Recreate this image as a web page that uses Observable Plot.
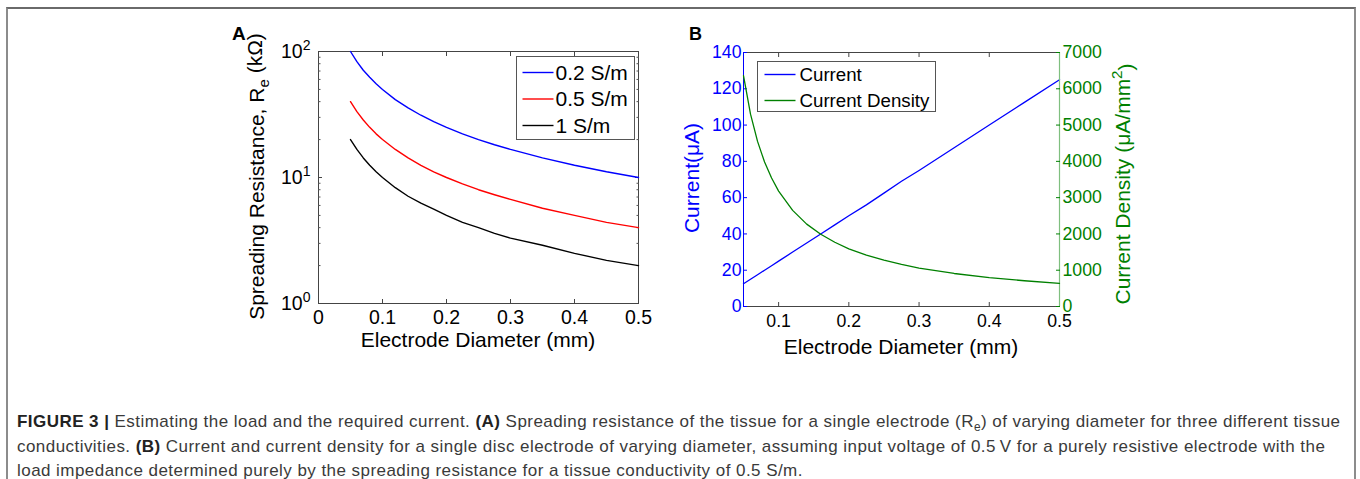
<!DOCTYPE html>
<html><head><meta charset="utf-8">
<script src="https://cdn.jsdelivr.net/npm/d3@7"></script>
<script src="https://cdn.jsdelivr.net/npm/@observablehq/plot@0.6"></script>
<style>
html,body{margin:0;padding:0;background:#fff;}
body{width:1360px;height:479px;overflow:hidden;position:relative;font-family:"Liberation Sans",Arial,sans-serif;}
#box{position:absolute;left:6px;top:7px;width:1350px;height:520px;box-sizing:border-box;border:2px solid #8c8c8c;border-top-color:#6a6a6a;}
.panel{position:absolute;top:0;}
#caption{position:absolute;left:17px;top:410px;font-size:17px;letter-spacing:0.45px;color:#3a3a3a;white-space:nowrap;}
#caption div{height:24.5px;line-height:24.5px;}
#caption b{color:#222;}
#caption sub{font-size:70%;line-height:0;}
</style></head><body>
<div id="box"></div>
<div id="A" class="panel" style="left:0"></div>
<div id="B1" class="panel" style="left:660px"></div>
<div id="B2" class="panel" style="left:660px"></div>
<div id="caption">
<div><b>FIGURE 3 |</b> Estimating the load and the required current. <b>(A)</b> Spreading resistance of the tissue for a single electrode (R<sub>e</sub>) of varying diameter for three different tissue</div>
<div>conductivities. <b>(B)</b> Current and current density for a single disc electrode of varying diameter, assuming input voltage of 0.5&#8201;V for a purely resistive electrode with the</div>
<div>load impedance determined purely by the spreading resistance for a tissue conductivity of 0.5 S/m.</div>
</div>
<script>
// ---------- data ----------
const diameters = [0.05,0.06,0.07,0.08,0.09,0.10,0.12,0.14,0.16,0.18,0.20,0.225,0.25,0.275,0.30,0.35,0.40,0.45,0.50];
const conductivities = ["0.2 S/m","0.5 S/m","1 S/m"];
const seriesColors = ["#0000ff","#ff0000","#000000"];
const resistance02 = [100,83,71,62.5,55.5,50,41.5,35.7,31.2,27.8,25,22.2,20,18.2,16.7,14.3,12.5,11.1,10];
const resistance05 = [40,33.3,28.6,25,22.2,20,16.7,14.3,12.5,11.1,10,8.9,8,7.3,6.7,5.7,5,4.4,4];
const resistance1 = [20,16.7,14.3,12.5,11.1,10,8.3,7.1,6.25,5.6,5,4.4,4,3.6,3.3,2.9,2.5,2.2,2];
const bSeries = ["Current","Current Density"];
const bColors = ["#0000ff","#008000"];
const current = [12.5,15,17.5,20,22.5,25,30,35,40,45,50,56,62.5,69,75,87.5,100,112.5,125];
const currentDensity = [6360,5300,4550,3980,3540,3180,2650,2270,1990,1770,1590,1415,1275,1160,1060,910,795,710,640];
const xDomainA = [0,0.5];
const yDomainA = [1,100];
const xTicksA = [0,0.1,0.2,0.3,0.4,0.5];
const yTicksA = [1,10,100];
const yMinorA = [2,3,4,5,6,7,8,9,20,30,40,50,60,70,80,90];
const xDomainB = [0.05,0.5];
const xTicksB = [0.1,0.2,0.3,0.4,0.5];
const yDomainCurrent = [0,140];
const yTicksCurrent = [0,20,40,60,80,100,120,140];
const yDomainDensity = [0,7000];
const yTicksDensity = [0,1000,2000,3000,4000,5000,6000,7000];

const FONT = "'Liberation Sans', Arial, sans-serif";

// ---------- panel A ----------
const rowsA = [];
[resistance02, resistance05, resistance1].forEach((arr, i) =>
  arr.forEach((v, j) => rowsA.push({d: diameters[j], r: v, s: conductivities[i]})));

const plotA = Plot.plot({
  width: 660, height: 360,
  marginLeft: 318, marginRight: 22, marginTop: 51, marginBottom: 57,
  style: {fontFamily: FONT, fontSize: "19.5px", color: "#000", background: "transparent", overflow: "visible"},
  x: {domain: xDomainA},
  y: {type: "log", domain: yDomainA},
  color: {domain: conductivities, range: seriesColors},
  marks: [
    Plot.frame({stroke: "#444", strokeWidth: 1}),
    Plot.axisX(xTicksA, {anchor: "bottom", tickSize: 0, tickPadding: 7, label: null, tickFormat: d => String(d)}),
    Plot.axisX(xTicksA, {anchor: "bottom", tickSize: -4, fill: "none", label: null, stroke: "#444"}),
    Plot.axisX(xTicksA, {anchor: "top", tickSize: -4, fill: "none", label: null, stroke: "#444"}),
    Plot.axisY(yTicksA, {anchor: "left", tickSize: 0, tickPadding: 8, label: null, tickFormat: d => "10^" + Math.round(Math.log10(d))}),
    Plot.axisY(yTicksA, {anchor: "left", tickSize: -4, fill: "none", label: null, stroke: "#444"}),
    Plot.axisY(yTicksA, {anchor: "right", tickSize: -4, fill: "none", label: null, stroke: "#444"}),
    Plot.axisY(yMinorA, {anchor: "left", tickSize: -2.5, fill: "none", label: null, stroke: "#555"}),
    Plot.axisY(yMinorA, {anchor: "right", tickSize: -2.5, fill: "none", label: null, stroke: "#555"}),
    Plot.line(rowsA, {x: "d", y: "r", z: "s", stroke: "s", strokeWidth: 1.4})
  ]
});
document.getElementById("A").appendChild(plotA);

function superscriptTicks(svg) {
  d3.select(svg).selectAll("text").each(function() {
    const m = /^10\^(-?\d+)$/.exec(this.textContent);
    if (!m) return;
    const t = d3.select(this);
    t.text("10");
    t.append("tspan").attr("dy", "-0.55em").attr("font-size", "72%").text(m[1]);
  });
}
superscriptTicks(plotA);

function addLegend(svg, names, colors, box, opts) {
  const g = d3.select(svg).append("g").attr("text-anchor", "start");
  g.append("rect").attr("x", box.x).attr("y", box.y).attr("width", box.w).attr("height", box.h)
    .attr("fill", "#fff").attr("stroke", "#555").attr("stroke-width", 1);
  names.forEach((n, i) => {
    const cy = box.y + opts.first + i * opts.step;
    g.append("line").attr("x1", box.x + opts.l1).attr("x2", box.x + opts.l2)
      .attr("y1", cy).attr("y2", cy).attr("stroke", colors[i]).attr("stroke-width", 1.4);
    g.append("text").attr("x", box.x + opts.tx).attr("y", cy).attr("dy", "0.35em")
      .attr("text-anchor", "start")
      .attr("font-size", opts.size).attr("font-family", FONT).attr("fill", "#000").text(n);
  });
}
addLegend(plotA, conductivities, seriesColors, {x: 516.5, y: 56.5, w: 118, h: 83},
  {first: 16, step: 26.5, l1: 6, l2: 37, tx: 39, size: "21px"});

const sA = d3.select(plotA);
sA.append("text").attr("x", 232).attr("y", 40).attr("text-anchor", "start").attr("font-size", "19px").attr("font-weight", "bold")
  .attr("font-family", FONT).text("A");
sA.append("text").attr("x", 478).attr("y", 347).attr("text-anchor", "middle").attr("font-size", "21px")
  .attr("font-family", FONT).text("Electrode Diameter (mm)");
const yl = sA.append("text").attr("transform", "translate(264,176.5) rotate(-90)").attr("text-anchor", "middle")
  .attr("font-size", "21px").attr("font-family", FONT);
yl.append("tspan").text("Spreading Resistance, R");
yl.append("tspan").attr("dy", "0.3em").attr("font-size", "72%").text("e");
yl.append("tspan").attr("dy", "-0.3em").text(" (k\u03A9)");

// ---------- panel B ----------
const rowsB = diameters.map((d, i) => ({d, c: current[i], j: currentDensity[i]}));
const commonB = {
  width: 480, height: 360, marginLeft: 83, marginRight: 81, marginTop: 52, marginBottom: 54,
  style: {fontFamily: FONT, fontSize: "17.7px", color: "#000", background: "transparent", overflow: "visible"}
};
const plotB1 = Plot.plot({
  ...commonB,
  x: {domain: xDomainB},
  y: {domain: yDomainCurrent},
  marks: [
    Plot.frame({stroke: "#444", strokeWidth: 1}),
    Plot.ruleX([xDomainB[0]], {stroke: bColors[0], strokeWidth: 1}),
    Plot.axisX(xTicksB, {anchor: "bottom", tickSize: 0, tickPadding: 8, label: null, tickFormat: d => String(d)}),
    Plot.axisX(xTicksB, {anchor: "bottom", tickSize: -4, fill: "none", label: null, stroke: "#444"}),
    Plot.axisX(xTicksB, {anchor: "top", tickSize: -4, fill: "none", label: null, stroke: "#444"}),
    Plot.axisY(yTicksCurrent, {anchor: "left", tickSize: 0, tickPadding: 2, label: null, color: bColors[0], tickFormat: d => String(d)}),
    Plot.axisY(yTicksCurrent, {anchor: "left", tickSize: -4, fill: "none", label: null, stroke: bColors[0]}),
    Plot.line(rowsB, {x: "d", y: "c", stroke: bColors[0], strokeWidth: 1.3})
  ]
});
document.getElementById("B1").appendChild(plotB1);

const plotB2 = Plot.plot({
  ...commonB,
  x: {domain: xDomainB, axis: null},
  y: {domain: yDomainDensity},
  marks: [
    Plot.ruleX([xDomainB[1]], {stroke: "#7fbf7f", strokeWidth: 1.2}),
    Plot.axisY(yTicksDensity, {anchor: "right", tickSize: 0, tickPadding: 3, label: null, color: bColors[1], tickFormat: d => String(d)}),
    Plot.axisY(yTicksDensity, {anchor: "right", tickSize: -4, fill: "none", label: null, stroke: bColors[1]}),
    Plot.line(rowsB, {x: "d", y: "j", stroke: bColors[1], strokeWidth: 1.3})
  ]
});
document.getElementById("B2").appendChild(plotB2);

addLegend(plotB2, bSeries, bColors, {x: 97.5, y: 61.5, w: 178, h: 50},
  {first: 13, step: 26, l1: 7, l2: 38, tx: 42, size: "18.7px"});

const sB = d3.select(plotB2);
sB.append("text").attr("x", 29).attr("y", 40).attr("text-anchor", "start").attr("font-size", "18px").attr("font-weight", "bold")
  .attr("font-family", FONT).text("B");
sB.append("text").attr("x", 241).attr("y", 354).attr("text-anchor", "middle").attr("font-size", "21px")
  .attr("font-family", FONT).text("Electrode Diameter (mm)");
sB.append("text").attr("transform", "translate(39,178) rotate(-90)").attr("text-anchor", "middle")
  .attr("font-size", "21px").attr("font-family", FONT).attr("fill", bColors[0]).text("Current(\u03BCA)");
const rl = sB.append("text").attr("transform", "translate(470,184) rotate(-90)").attr("text-anchor", "middle")
  .attr("font-size", "21px").attr("font-family", FONT).attr("fill", bColors[1]);
rl.append("tspan").text("Current Density (\u03BCA/mm");
rl.append("tspan").attr("dy", "-0.5em").attr("font-size", "72%").text("2");
rl.append("tspan").attr("dy", "0.5em").text(")");
</script>
</body></html>
